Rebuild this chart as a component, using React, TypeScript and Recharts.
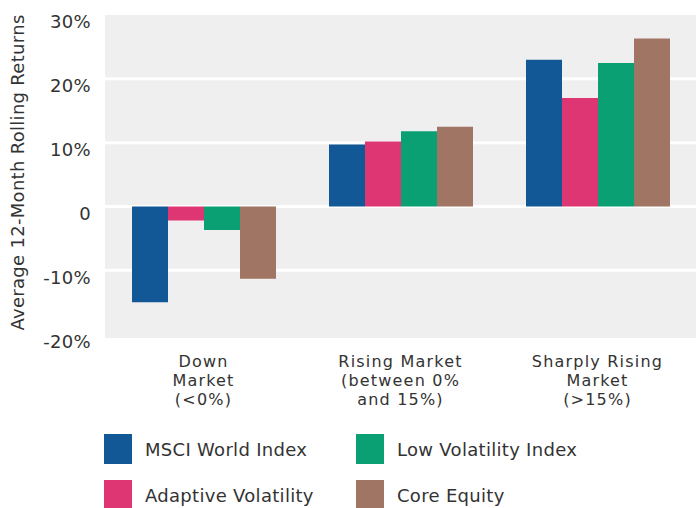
import React from 'react';
import { BarChart, Bar, XAxis, YAxis, CartesianGrid, Legend } from 'recharts';

const categories = ['Down Market (<0%)', 'Rising Market (between 0% and 15%)', 'Sharply Rising Market (>15%)'];
const categoryLines = [
  ['Down', 'Market', '(<0%)'],
  ['Rising Market', '(between 0%', 'and 15%)'],
  ['Sharply Rising', 'Market', '(>15%)'],
];
const msciWorld = [-15.0, 9.7, 23.0];
const adaptiveVolatility = [-2.2, 10.2, 17.0];
const lowVolatilityIndex = [-3.7, 11.8, 22.5];
const coreEquity = [-11.3, 12.5, 26.3];

const yTicks = [-20, -10, 0, 10, 20, 30];
const gridValues = [-10, 0, 10, 20];

const seriesKeys = ['msci', 'adaptive', 'lowvol', 'core'];
const seriesNames = ['MSCI World Index', 'Adaptive Volatility', 'Low Volatility Index', 'Core Equity'];
const seriesColors = ['#125896', '#dd3672', '#0ba074', '#a07563'];

const data = categories.map((c, i) => ({
  category: c,
  msci: msciWorld[i],
  adaptive: adaptiveVolatility[i],
  lowvol: lowVolatilityIndex[i],
  core: coreEquity[i],
}));

const FONT = '"DejaVu Sans", Verdana, sans-serif';
const TEXT = '#333333';
const FS = 18;
const LS = 0.3;

const YTick = (props: any) => {
  const { x, y, payload } = props;
  const v = payload.value;
  return (
    <text x={x} y={y + 7} dy="0.355em" textAnchor="end" fill={TEXT} fontSize={FS} fontFamily={FONT} letterSpacing={LS}>
      {v === 0 ? '0' : `${v}%`}
    </text>
  );
};

const XTick = (props: any) => {
  const { x, y, payload } = props;
  const idx = categories.indexOf(payload.value);
  const lines = categoryLines[idx] || [String(payload.value)];
  return (
    <g>
      {lines.map((l, i) => (
        <text key={i} x={x} y={y + 23.5 + i * 19} dy="0.355em" textAnchor="middle" fill={TEXT} fontSize={16} fontFamily={FONT} letterSpacing={1.2}>
          {l}
        </text>
      ))}
    </g>
  );
};

const YLabel = (props: any) => {
  const vb = props.viewBox || { x: 0, y: 15, width: 105, height: 323 };
  const cx = vb.x + 17;
  const cy = vb.y + vb.height / 2 - 4;
  return (
    <text x={cx} y={cy} transform={`rotate(-90 ${cx} ${cy})`} textAnchor="middle" dominantBaseline="central" fill={TEXT} fontSize={FS} fontFamily={FONT} letterSpacing={LS}>
      Average 12-Month Rolling Returns
    </text>
  );
};

const LegendContent = (props: any) => {
  const payload = [...(props.payload || [])].sort(
    (a: any, b: any) => seriesNames.indexOf(a.value) - seriesNames.indexOf(b.value)
  );
  return (
    <div
      style={{
        display: 'grid',
        gridTemplateRows: '30px 30px',
        rowGap: 16,
        gridAutoFlow: 'column',
        gridTemplateColumns: '252px 252px',
        paddingLeft: 104,
      }}
    >
      {payload.map((p: any, i: number) => (
        <div key={i} style={{ display: 'flex', alignItems: 'center', height: 30 }}>
          <div style={{ width: 28, height: 30, background: p.color, marginRight: 13, flex: 'none' }} />
          <span style={{ fontFamily: FONT, fontSize: FS, color: TEXT, letterSpacing: LS, whiteSpace: 'nowrap' }}>{p.value}</span>
        </div>
      ))}
    </div>
  );
};

export default function App() {
  return (
    <div style={{ position: 'absolute', left: 0, top: 0, width: 696, height: 508, fontFamily: FONT, background: '#ffffff' }}>
      <BarChart
        width={696}
        height={508}
        data={data}
        margin={{ top: 15, right: 0, bottom: 140, left: 0 }}
        barCategoryGap={27}
        barGap={0}
      >
        <CartesianGrid
          vertical={false}
          horizontal={true}
          horizontalValues={gridValues}
          stroke="#ffffff"
          strokeWidth={3}
          fill="#efefef"
          fillOpacity={1}
        />
        <XAxis
          dataKey="category"
          height={30}
          tickLine={false}
          axisLine={false}
          tickSize={0}
          tickMargin={0}
          interval={0}
          tick={<XTick />}
        />
        <YAxis
          width={105}
          domain={[-20.6, 30]}
          ticks={yTicks}
          allowDataOverflow
          tickLine={false}
          axisLine={false}
          tickSize={0}
          tickMargin={14}
          interval={0}
          tick={<YTick />}
          label={<YLabel />}
        />
        <Legend
          layout="horizontal"
          verticalAlign="middle"
          align="center"
          wrapperStyle={{ left: 0, top: 434, width: 696 }}
          content={<LegendContent />}
        />
        {seriesKeys.map((k, i) => (
          <Bar key={k} dataKey={k} name={seriesNames[i]} fill={seriesColors[i]} isAnimationActive={false} />
        ))}
      </BarChart>
    </div>
  );
}
